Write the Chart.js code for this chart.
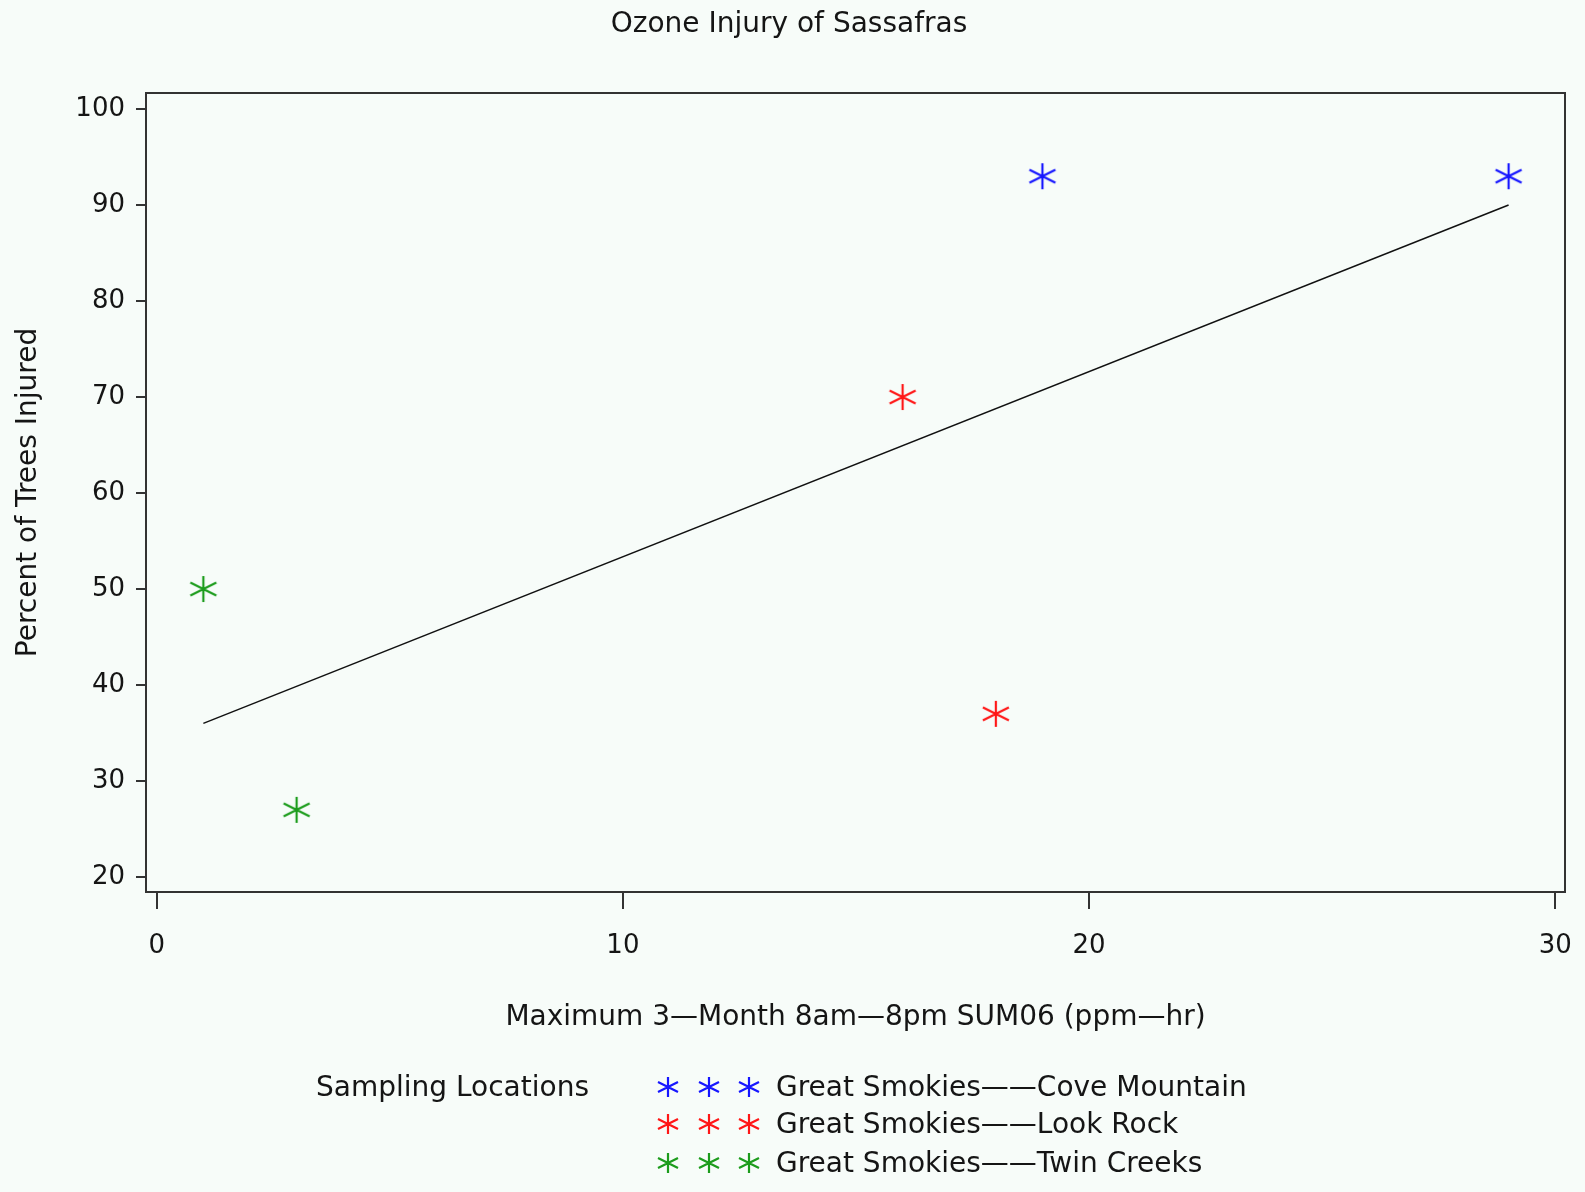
<!DOCTYPE html>
<html>
<head>
<meta charset="utf-8">
<title>Ozone Injury of Sassafras</title>
<script src="https://cdn.jsdelivr.net/npm/chart.js@4.4.1/dist/chart.umd.min.js"></script>
<style>
  html, body { margin: 0; padding: 0; background: #f7fcf9; }
  #wrap { width: 1585px; height: 1192px; }
</style>
</head>
<body>
<div id="wrap"><canvas id="chart" width="1585" height="1192"></canvas></div>
<script>
// Points (SUM06 ppm-hr, % trees injured)
const coveX = [19, 29]
const coveY = [93, 93]
const lookX = [16, 18]
const lookY = [70, 37]
const twinX = [1, 3]
const twinY = [50, 27]

// Fitted line, end points as drawn
const fitX = [1, 29]
const fitY = [36, 90]

// Axes
const xTicks = [0, 10, 20, 30]
const yTicks = [20, 30, 40, 50, 60, 70, 80, 90, 100]

// Legend
const seriesNames = [
  "Great Smokies\u2014\u2014Cove Mountain",
  "Great Smokies\u2014\u2014Look Rock",
  "Great Smokies\u2014\u2014Twin Creeks"
]
const seriesColors = ["#1616ff", "#ff1616", "#1c9c1c"]

const FONT = "'DejaVu Sans', 'Liberation Sans', sans-serif"
const INK = "#151515"

const pts = (xs, ys) => xs.map((x, i) => ({ x: x, y: ys[i] }))

// SAS style six-armed asterisk
function asterisk(color, r) {
  const c = document.createElement("canvas")
  const s = Math.ceil(r * 2 + 4)
  c.width = s
  c.height = s
  const g = c.getContext("2d")
  g.strokeStyle = color
  g.lineWidth = 2.2
  g.translate(s / 2, s / 2)
  g.beginPath()
  g.moveTo(0, -r); g.lineTo(0, r)
  g.moveTo(-r, -r * 0.5); g.lineTo(r, r * 0.5)
  g.moveTo(-r, r * 0.5); g.lineTo(r, -r * 0.5)
  g.stroke()
  return c
}

const bigStars = seriesColors.map(c => asterisk(c, 13))
const smallStars = seriesColors.map(c => asterisk(c, 10))

// Background, frame, title and legend
const decor = {
  id: "decor",
  beforeDraw(chart) {
    const ctx = chart.ctx
    ctx.save()
    ctx.fillStyle = "#f7fcf9"
    ctx.fillRect(0, 0, chart.width, chart.height)
    ctx.restore()
  },
  afterDraw(chart) {
    const ctx = chart.ctx
    const a = chart.chartArea
    ctx.save()
    ctx.strokeStyle = "#333"
    ctx.lineWidth = 2
    ctx.strokeRect(a.left, a.top, a.right - a.left, a.bottom - a.top)

    ctx.fillStyle = INK
    ctx.textBaseline = "middle"
    ctx.font = "28px " + FONT
    ctx.textAlign = "center"
    ctx.fillText("Ozone Injury of Sassafras", 789, 25)

    ctx.textAlign = "left"
    ctx.fillText("Sampling Locations", 316, 1089)
    const rowY = [1089, 1126, 1165]
    const markX = [668, 709, 749]
    seriesNames.forEach((name, i) => {
      const img = smallStars[i]
      markX.forEach(mx => ctx.drawImage(img, mx - img.width / 2, rowY[i] - 2 - img.height / 2))
      ctx.fillText(name, 776, rowY[i])
    })
    ctx.restore()
  }
}

new Chart(document.getElementById("chart"), {
  type: "scatter",
  data: {
    datasets: [
      { label: seriesNames[0], data: pts(coveX, coveY), pointStyle: bigStars[0] },
      { label: seriesNames[1], data: pts(lookX, lookY), pointStyle: bigStars[1] },
      { label: seriesNames[2], data: pts(twinX, twinY), pointStyle: bigStars[2] },
      {
        label: "fit", data: pts(fitX, fitY), showLine: true,
        borderColor: "#111", borderWidth: 1.5, pointRadius: 0
      }
    ]
  },
  options: {
    responsive: false,
    animation: false,
    layout: { padding: { top: 93, right: 20, bottom: 0, left: 0 } },
    plugins: { legend: { display: false }, tooltip: { enabled: false } },
    scales: {
      x: {
        type: "linear",
        min: -0.23,
        max: 30.21,
        afterBuildTicks: s => { s.ticks = xTicks.map(v => ({ value: v })) },
        afterFit: s => { s.height = 300; s.paddingLeft = 0; s.paddingRight = 0 },
        grid: { drawOnChartArea: false, tickLength: 17, color: "#333", lineWidth: 2 },
        border: { display: false },
        ticks: { color: INK, font: { family: FONT, size: 26 }, padding: 22, maxRotation: 0 },
        title: {
          display: true,
          text: "Maximum 3\u2014Month 8am\u20148pm SUM06 (ppm\u2014hr)",
          color: INK,
          font: { family: FONT, size: 28 },
          padding: { top: 0, bottom: 157 }
        }
      },
      y: {
        type: "linear",
        min: 18.44,
        max: 101.67,
        afterBuildTicks: s => { s.ticks = yTicks.map(v => ({ value: v })) },
        afterFit: s => { s.width = 146; s.paddingTop = 0; s.paddingBottom = 0 },
        grid: { drawOnChartArea: false, tickLength: 10, color: "#333", lineWidth: 2 },
        border: { display: false },
        ticks: { color: INK, font: { family: FONT, size: 26 }, padding: 11 },
        title: {
          display: true,
          text: "Percent of Trees Injured",
          color: INK,
          font: { family: FONT, size: 28 },
          padding: { top: 12, bottom: 0 }
        }
      }
    }
  },
  plugins: [decor]
})
</script>
</body>
</html>
